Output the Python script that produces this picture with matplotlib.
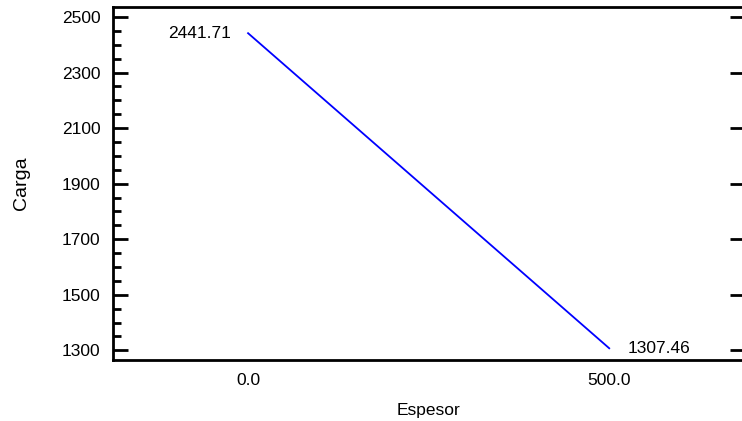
import numpy as np
import matplotlib.pyplot as plt
from matplotlib.ticker import MultipleLocator

# fitted model: carga vs espesor
espesor = [0.0, 500.0]
carga = [2441.71, 1307.46]
xticks = [0.0, 500.0]
xtick_labels = ['0.0', '500.0']
yticks = [1300, 1500, 1700, 1900, 2100, 2300, 2500]

plt.rcParams['font.family'] = ['Liberation Sans', 'DejaVu Sans']

fig = plt.figure(figsize=(7.42, 4.21), dpi=100)
ax = fig.add_axes([113 / 742, 1 - 359.5 / 421, 632 / 742, 352.5 / 421])

ax.plot(espesor, carga, color='#0000ff', lw=1.3)

ax.set_xlim(-187, 688)
ax.set_ylim(1267, 2536)

ax.set_xticks(xticks)
ax.set_xticklabels(xtick_labels)
ax.tick_params(axis='x', length=0, pad=9.5, labelsize=12.5)
ax.set_yticks(yticks)
ax.yaxis.set_minor_locator(MultipleLocator(50))
ax.tick_params(axis='y', which='major', direction='in', length=11, width=2,
               right=True, labelsize=12.5, pad=9)
ax.tick_params(axis='y', which='minor', direction='in', length=6, width=2,
               right=False)

for side in ['left', 'top', 'bottom']:
    ax.spines[side].set_linewidth(2)
ax.spines['right'].set_visible(False)

ax.set_xlabel('Espesor', fontsize=12.5, labelpad=11)
ax.set_ylabel('Carga', fontsize=14, labelpad=23)

# end-point values
ax.annotate(f'{carga[0]:.2f}', (espesor[0], carga[0]), xytext=(-12, 0),
            textcoords='offset points', ha='right', va='center', fontsize=12.5)
ax.annotate(f'{carga[1]:.2f}', (espesor[1], carga[1]), xytext=(13, 0),
            textcoords='offset points', ha='left', va='center', fontsize=12.5)

fig.savefig('out.png', dpi=100)
